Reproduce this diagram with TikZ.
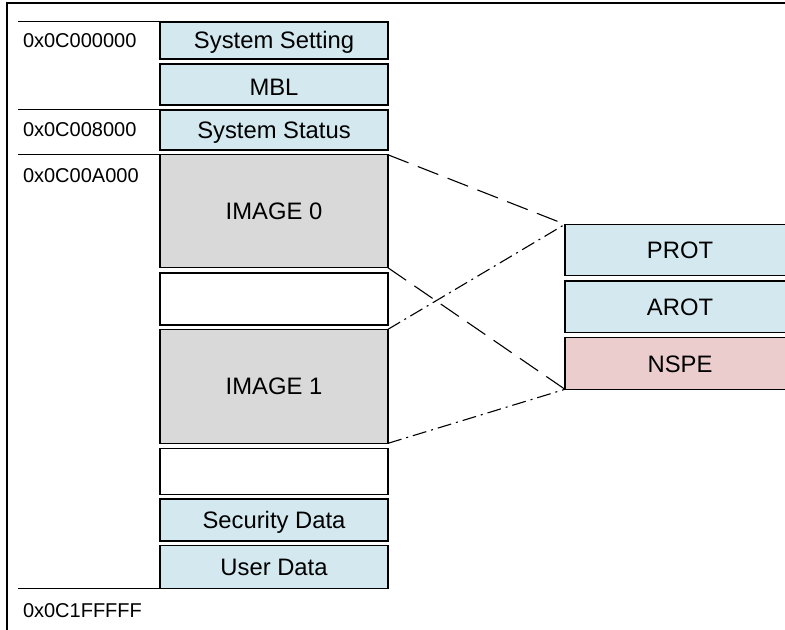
\documentclass[tikz,border=0pt]{standalone}
\usepackage{fontspec}
\setmainfont{Liberation Sans}
\definecolor{blockblue}{HTML}{D3E9EF}
\definecolor{blockgray}{HTML}{D9D9D9}
\definecolor{blockpink}{HTML}{EBCDCD}
\begin{document}
\begin{tikzpicture}[x=0.5pt,y=-0.5pt,
	every node/.style={inner sep=0,outer sep=0},
	region/.style={draw,line width=0.65pt,minimum width=114pt,minimum height=#1,
		text height=8.5pt,text depth=0pt,font=\fontsize{11.9}{14}\selectfont},
	part/.style={region=#1,draw=none,anchor=west,minimum width=300pt},
	addr/.style={anchor=west,text height=7.2pt,text depth=0pt,font=\fontsize{10}{12}\selectfont},
	mapdash/.style={line width=0.55pt,dash pattern=on 11pt off 5pt},
	mapdot/.style={line width=0.55pt,dash pattern=on 7pt off 2.5pt on 1pt off 2.5pt}]
\useasboundingbox (0,0) rectangle (785,630);
\clip (0,0) rectangle (785,630);
\draw[line width=1pt] (1000,3.5) -- (6.5,3.5) -- (6.5,800);
% flash map
\node[region=18.5pt,fill=blockblue] (setting) at (274,40.5) {System Setting};
\node[region=20.5pt,fill=blockblue] (mbl) at (274,84.5) {\raisebox{-1.5pt}{MBL}};
\node[region=20pt,fill=blockblue] (status) at (274,130) {System Status};
\node[region=56.5pt,fill=blockgray] (img0) at (274,211.3) {IMAGE 0};
\node[region=26pt,fill=white] (free0) at (274,299) {};
\node[region=57pt,fill=blockgray] (img1) at (274,386.3) {IMAGE 1};
\node[region=23pt,fill=white] (free1) at (274,471.3) {};
\node[region=21pt,fill=blockblue] (secdata) at (274,520) {Security Data};
\node[region=21.3pt,fill=blockblue] (userdata) at (274,567) {User Data};
% image layout, cut at the right edge
\node[part=25.7pt,fill=blockblue] (prot) at (565,250) {\makebox[300pt][l]{\makebox[115pt]{PROT}}};
\node[part=25.7pt,fill=blockblue] (arot) at (565,306.7) {\makebox[300pt][l]{\makebox[115pt]{AROT}}};
\node[part=25.8pt,fill=blockpink] (nspe) at (565,363.5) {\makebox[300pt][l]{\makebox[115pt]{NSPE}}};
\foreach \n in {prot,arot,nspe}
	\draw[line width=0.65pt] (\n.north east) -- (\n.north west) -- (\n.south west) -- (\n.south east);
% addresses
\foreach \a in {setting.north west,status.north west,img0.north west,userdata.south west}
	\draw[line width=0.5pt] (\a) -- ++(-142,0);
\node[addr] (a0) at (23,40.5) {0x0C000000};
\node[addr] (a1) at (23,129) {0x0C008000};
\node[addr] (a2) at (23,175.5) {0x0C00A000};
\node[addr] (a3) at (23,610) {0x0C1FFFFF};
\draw[mapdash] (img0.north east) -- (prot.north west);
\draw[mapdash] (img0.south east) -- (nspe.south west);
\draw[mapdot] (img1.north east) -- (prot.north west);
\draw[mapdot] (img1.south east) -- (nspe.south west);
\end{tikzpicture}
\end{document}
